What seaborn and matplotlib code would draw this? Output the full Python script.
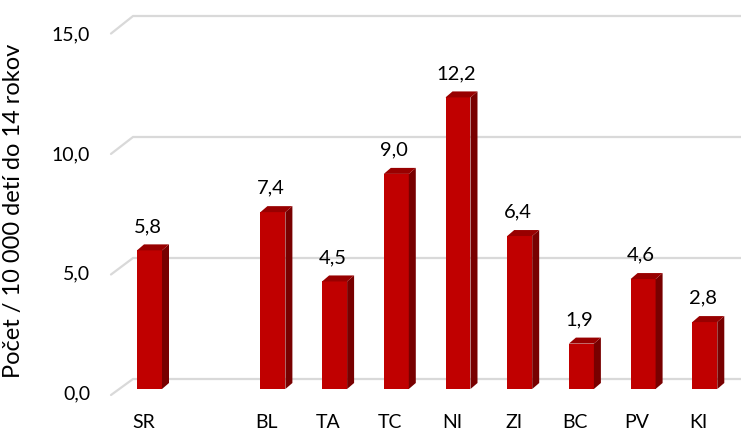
import matplotlib
matplotlib.use("Agg")
import matplotlib.pyplot as plt
import matplotlib.transforms as mtransforms
from matplotlib.patches import Polygon
import seaborn as sns
import pandas as pd

# data
categories = ["SR", " ", "BL", "TA", "TC", "NI", "ZI", "BC", "PV", "KI"]
regions = ["SR", "BL", "TA", "TC", "NI", "ZI", "BC", "PV", "KI"]
values = [5.8, 7.4, 4.5, 9.0, 12.2, 6.4, 1.9, 4.6, 2.8]
y_ticks = [0, 5, 10, 15]
y_tick_labels = ["0,0", "5,0", "10,0", "15,0"]
y_label = "Počet / 10 000 detí do 14 rokov"

front_color = "#C00000"
side_color = "#780000"
top_color = "#980000"
grid_color = "#D9D9D9"

sns.set_style("white")
plt.rcParams["font.family"] = ["Lato", "DejaVu Sans"]
plt.rcParams["text.color"] = "black"
plt.rcParams["axes.labelcolor"] = "black"
plt.rcParams["xtick.color"] = "black"
plt.rcParams["ytick.color"] = "black"

W, H, DPI = 741, 434, 100
fig = plt.figure(figsize=(W / DPI, H / DPI), dpi=DPI)
ax = fig.add_axes([100 / W, (H - 400) / H, 641 / W, 390 / H])

# pixel -> data helpers (category step 61.7 px, 23.9 px per unit)
PX_X, PX_Y = 61.7, 23.9
def px_x(px):
    return (px - 149.5) / PX_X
def px_y(px):
    return (389 - px) / PX_Y

df = pd.DataFrame({"region": regions, "value": values})
sns.barplot(data=df, x="region", y="value", order=categories, color=front_color,
            saturation=1, width=0.405, linewidth=0, ax=ax, zorder=3)

ax.set_xlim(px_x(100), px_x(741))
ax.set_ylim(px_y(400), px_y(10))

# 3d look: side and top faces
dx, dy = 7 / PX_X, 6 / PX_Y
for p in list(ax.patches):
    x0, w, h = p.get_x(), p.get_width(), p.get_height()
    x1 = x0 + w
    side = Polygon([(x1, 0), (x1, h), (x1 + dx, h + dy), (x1 + dx, dy)],
                   closed=True, facecolor=side_color, edgecolor="none", zorder=3)
    top = Polygon([(x0, h), (x1, h), (x1 + dx, h + dy), (x0 + dx, h + dy)],
                  closed=True, facecolor=top_color, edgecolor="none", zorder=3)
    ax.add_patch(side)
    ax.add_patch(top)
    ax.annotate(f"{h:.1f}".replace(".", ","), xy=(x0 + w / 2, h), xytext=(-2, 24),
                textcoords="offset pixels", ha="center", va="center", fontsize=14.5)

# back wall gridlines with slanted left wall
for v in y_ticks:
    yb = px_y(379 - 24.2 * v)
    yf = px_y(395 - 24.1 * v)
    ax.plot([px_x(111), px_x(133), px_x(741)], [yf, yb, yb], color=grid_color,
            lw=1.6, zorder=1, solid_joinstyle="miter", clip_on=False)

ax.set_yticks(y_ticks)
ax.set_yticklabels(y_tick_labels, fontsize=14)
ax.tick_params(axis="y", length=0, pad=7)
ax.tick_params(axis="x", length=0, pad=10, labelsize=14)
for lab in ax.get_yticklabels():
    lab.set_transform(lab.get_transform() + mtransforms.ScaledTranslation(0, -3 / DPI, fig.dpi_scale_trans))
for lab in ax.get_xticklabels():
    lab.set_transform(lab.get_transform() + mtransforms.ScaledTranslation(-6 / DPI, 0, fig.dpi_scale_trans))

ax.set_xlabel("")
ax.set_ylabel(y_label, fontsize=17)
ax.yaxis.set_label_coords((24 - 100) / 641, (400 - 211) / 390)
sns.despine(ax=ax, left=True, bottom=True)
ax.grid(False)

fig.savefig("out.png", dpi=DPI)
